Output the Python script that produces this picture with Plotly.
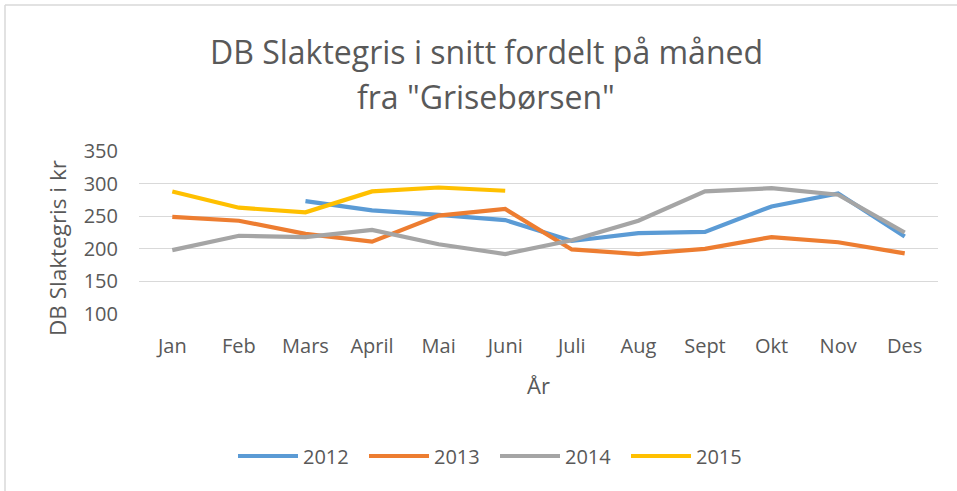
import plotly.graph_objects as go

months = ["Jan", "Feb", "Mars", "April", "Mai", "Juni", "Juli", "Aug", "Sept", "Okt", "Nov", "Des"]
v2012 = [None, None, 273, 259, 252, 244, 212, 224, 226, 265, 285, 219]
v2013 = [249, 243, 223, 211, 251, 261, 199, 192, 200, 218, 210, 193]
v2014 = [198, 220, 218, 229, 207, 192, 213, 243, 288, 293, 283, 225]
v2015 = [288, 263, 256, 288, 294, 289, None, None, None, None, None, None]
years = ["2012", "2013", "2014", "2015"]
colors = ["#5B9BD5", "#ED7D31", "#A5A5A5", "#FFC000"]
yticks = [100, 150, 200, 250, 300, 350]

W, H = 957, 491
L, R, T, B = 139, 19, 151, 177
ph = H - T - B

def py(pix):
    return (H - B - pix) / ph

def px(pix):
    return (pix - L) / (W - L - R)

FONT = "Open Sans"
TXT = "#595959"

fig = go.Figure()
for name, vals, c in zip(years, [v2012, v2013, v2014, v2015], colors):
    fig.add_trace(go.Scatter(x=months, y=vals, name=name, mode="lines",
                             line=dict(color=c, width=4.2, shape="linear"),
                             connectgaps=False))

fig.update_layout(
    width=W, height=H,
    margin=dict(l=L, r=R, t=T, b=B, autoexpand=False),
    paper_bgcolor="white", plot_bgcolor="white",
    font=dict(family=FONT, color=TXT, size=20),
    showlegend=True,
    legend=dict(orientation="h", x=px(495), xanchor="center", y=py(456), yanchor="middle",
                font=dict(size=20, color=TXT), itemwidth=60,
                entrywidth=56, entrywidthmode="pixels"),
    xaxis=dict(type="category", categoryorder="array", categoryarray=months,
               range=[-0.5, 11.5], showgrid=False, zeroline=False, showline=False,
               ticks="", ticklabelstandoff=18, automargin=False,
               tickfont=dict(size=20, color=TXT),
               title=dict(text="År", font=dict(size=22, color=TXT), standoff=20)),
    yaxis=dict(range=[100, 350], tickvals=yticks, showgrid=True, gridcolor="#D9D9D9",
               gridwidth=1.3, zeroline=False, showline=False, ticks="", ticklabelstandoff=20,
               automargin=False,
               tickfont=dict(size=20, color=TXT)),
)

fig.add_annotation(text="DB Slaktegris i kr", xref="paper", yref="paper",
                   x=px(57), y=py(248), xanchor="center", yanchor="middle", showarrow=False,
                   textangle=-90, font=dict(size=22.5, color=TXT, family=FONT))
fig.add_annotation(text="DB Slaktegris i snitt fordelt på måned", xref="paper", yref="paper",
                   x=px(486), y=py(51), xanchor="center", yanchor="middle", showarrow=False,
                   font=dict(size=32, color=TXT, family=FONT))
fig.add_annotation(text='fra "Grisebørsen"', xref="paper", yref="paper",
                   x=px(486), y=py(96), xanchor="center", yanchor="middle", showarrow=False,
                   font=dict(size=32, color=TXT, family=FONT))

# chart area border
fig.add_shape(type="line", xref="paper", yref="paper", x0=px(5), x1=px(957), y0=py(5), y1=py(5),
              line=dict(color="#D9D9D9", width=1.5))
fig.add_shape(type="line", xref="paper", yref="paper", x0=px(5), x1=px(5), y0=py(5), y1=py(491),
              line=dict(color="#D9D9D9", width=1.5))

fig.write_html("out.html", config={"displayModeBar": False},
               post_script="document.body.style.margin='0';document.body.style.padding='0';")
